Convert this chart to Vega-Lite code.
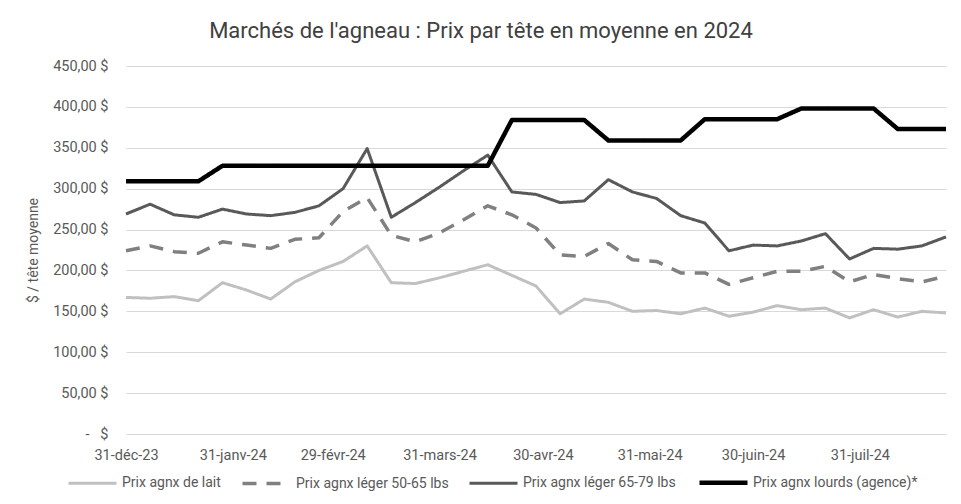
{
  "$schema": "https://vega.github.io/schema/vega-lite/v6.json",
  "width": 820,
  "height": 368,
  "autosize": {"type": "none"},
  "padding": {"left": 126, "top": 66, "right": 15, "bottom": 70},
  "background": "white",
  "title": {
    "text": "Marchés de l'agneau : Prix par tête en moyenne en 2024",
    "font": "Roboto",
    "fontSize": 22,
    "fontWeight": "normal",
    "color": "#404040",
    "anchor": "middle",
    "dx": -55,
    "offset": 15
  },
  "data": {
    "values": [
      {"date": "2023-12-31", "serie": "Prix agnx de lait", "prix": 167},
      {"date": "2024-01-07", "serie": "Prix agnx de lait", "prix": 166},
      {"date": "2024-01-14", "serie": "Prix agnx de lait", "prix": 168},
      {"date": "2024-01-21", "serie": "Prix agnx de lait", "prix": 163},
      {"date": "2024-01-28", "serie": "Prix agnx de lait", "prix": 185},
      {"date": "2024-02-04", "serie": "Prix agnx de lait", "prix": 176},
      {"date": "2024-02-11", "serie": "Prix agnx de lait", "prix": 165},
      {"date": "2024-02-18", "serie": "Prix agnx de lait", "prix": 186},
      {"date": "2024-02-25", "serie": "Prix agnx de lait", "prix": 200},
      {"date": "2024-03-03", "serie": "Prix agnx de lait", "prix": 211},
      {"date": "2024-03-10", "serie": "Prix agnx de lait", "prix": 230},
      {"date": "2024-03-17", "serie": "Prix agnx de lait", "prix": 185},
      {"date": "2024-03-24", "serie": "Prix agnx de lait", "prix": 184},
      {"date": "2024-03-31", "serie": "Prix agnx de lait", "prix": 191},
      {"date": "2024-04-07", "serie": "Prix agnx de lait", "prix": 199},
      {"date": "2024-04-14", "serie": "Prix agnx de lait", "prix": 207},
      {"date": "2024-04-21", "serie": "Prix agnx de lait", "prix": 194},
      {"date": "2024-04-28", "serie": "Prix agnx de lait", "prix": 181},
      {"date": "2024-05-05", "serie": "Prix agnx de lait", "prix": 147},
      {"date": "2024-05-12", "serie": "Prix agnx de lait", "prix": 165},
      {"date": "2024-05-19", "serie": "Prix agnx de lait", "prix": 161},
      {"date": "2024-05-26", "serie": "Prix agnx de lait", "prix": 150},
      {"date": "2024-06-02", "serie": "Prix agnx de lait", "prix": 151},
      {"date": "2024-06-09", "serie": "Prix agnx de lait", "prix": 147},
      {"date": "2024-06-16", "serie": "Prix agnx de lait", "prix": 154},
      {"date": "2024-06-23", "serie": "Prix agnx de lait", "prix": 144},
      {"date": "2024-06-30", "serie": "Prix agnx de lait", "prix": 149},
      {"date": "2024-07-07", "serie": "Prix agnx de lait", "prix": 157},
      {"date": "2024-07-14", "serie": "Prix agnx de lait", "prix": 152},
      {"date": "2024-07-21", "serie": "Prix agnx de lait", "prix": 154},
      {"date": "2024-07-28", "serie": "Prix agnx de lait", "prix": 142},
      {"date": "2024-08-04", "serie": "Prix agnx de lait", "prix": 152},
      {"date": "2024-08-11", "serie": "Prix agnx de lait", "prix": 143},
      {"date": "2024-08-18", "serie": "Prix agnx de lait", "prix": 150},
      {"date": "2024-08-25", "serie": "Prix agnx de lait", "prix": 148},
      {"date": "2023-12-31", "serie": "Prix agnx léger 50-65 lbs", "prix": 224},
      {"date": "2024-01-07", "serie": "Prix agnx léger 50-65 lbs", "prix": 230},
      {"date": "2024-01-14", "serie": "Prix agnx léger 50-65 lbs", "prix": 223},
      {"date": "2024-01-21", "serie": "Prix agnx léger 50-65 lbs", "prix": 221},
      {"date": "2024-01-28", "serie": "Prix agnx léger 50-65 lbs", "prix": 235},
      {"date": "2024-02-04", "serie": "Prix agnx léger 50-65 lbs", "prix": 231},
      {"date": "2024-02-11", "serie": "Prix agnx léger 50-65 lbs", "prix": 227},
      {"date": "2024-02-18", "serie": "Prix agnx léger 50-65 lbs", "prix": 238},
      {"date": "2024-02-25", "serie": "Prix agnx léger 50-65 lbs", "prix": 240},
      {"date": "2024-03-03", "serie": "Prix agnx léger 50-65 lbs", "prix": 272},
      {"date": "2024-03-10", "serie": "Prix agnx léger 50-65 lbs", "prix": 289},
      {"date": "2024-03-17", "serie": "Prix agnx léger 50-65 lbs", "prix": 243},
      {"date": "2024-03-24", "serie": "Prix agnx léger 50-65 lbs", "prix": 235},
      {"date": "2024-03-31", "serie": "Prix agnx léger 50-65 lbs", "prix": 246},
      {"date": "2024-04-07", "serie": "Prix agnx léger 50-65 lbs", "prix": 262},
      {"date": "2024-04-14", "serie": "Prix agnx léger 50-65 lbs", "prix": 279},
      {"date": "2024-04-21", "serie": "Prix agnx léger 50-65 lbs", "prix": 268},
      {"date": "2024-04-28", "serie": "Prix agnx léger 50-65 lbs", "prix": 252},
      {"date": "2024-05-05", "serie": "Prix agnx léger 50-65 lbs", "prix": 219},
      {"date": "2024-05-12", "serie": "Prix agnx léger 50-65 lbs", "prix": 217},
      {"date": "2024-05-19", "serie": "Prix agnx léger 50-65 lbs", "prix": 233},
      {"date": "2024-05-26", "serie": "Prix agnx léger 50-65 lbs", "prix": 213},
      {"date": "2024-06-02", "serie": "Prix agnx léger 50-65 lbs", "prix": 211},
      {"date": "2024-06-09", "serie": "Prix agnx léger 50-65 lbs", "prix": 197},
      {"date": "2024-06-16", "serie": "Prix agnx léger 50-65 lbs", "prix": 197},
      {"date": "2024-06-23", "serie": "Prix agnx léger 50-65 lbs", "prix": 183},
      {"date": "2024-06-30", "serie": "Prix agnx léger 50-65 lbs", "prix": 191},
      {"date": "2024-07-07", "serie": "Prix agnx léger 50-65 lbs", "prix": 199},
      {"date": "2024-07-14", "serie": "Prix agnx léger 50-65 lbs", "prix": 199},
      {"date": "2024-07-21", "serie": "Prix agnx léger 50-65 lbs", "prix": 205},
      {"date": "2024-07-28", "serie": "Prix agnx léger 50-65 lbs", "prix": 186},
      {"date": "2024-08-04", "serie": "Prix agnx léger 50-65 lbs", "prix": 195},
      {"date": "2024-08-11", "serie": "Prix agnx léger 50-65 lbs", "prix": 190},
      {"date": "2024-08-18", "serie": "Prix agnx léger 50-65 lbs", "prix": 186},
      {"date": "2024-08-25", "serie": "Prix agnx léger 50-65 lbs", "prix": 193},
      {"date": "2023-12-31", "serie": "Prix agnx léger 65-79 lbs", "prix": 269},
      {"date": "2024-01-07", "serie": "Prix agnx léger 65-79 lbs", "prix": 281},
      {"date": "2024-01-14", "serie": "Prix agnx léger 65-79 lbs", "prix": 268},
      {"date": "2024-01-21", "serie": "Prix agnx léger 65-79 lbs", "prix": 265},
      {"date": "2024-01-28", "serie": "Prix agnx léger 65-79 lbs", "prix": 275},
      {"date": "2024-02-04", "serie": "Prix agnx léger 65-79 lbs", "prix": 269},
      {"date": "2024-02-11", "serie": "Prix agnx léger 65-79 lbs", "prix": 267},
      {"date": "2024-02-18", "serie": "Prix agnx léger 65-79 lbs", "prix": 271},
      {"date": "2024-02-25", "serie": "Prix agnx léger 65-79 lbs", "prix": 279},
      {"date": "2024-03-03", "serie": "Prix agnx léger 65-79 lbs", "prix": 300},
      {"date": "2024-03-10", "serie": "Prix agnx léger 65-79 lbs", "prix": 349},
      {"date": "2024-03-17", "serie": "Prix agnx léger 65-79 lbs", "prix": 265},
      {"date": "2024-03-24", "serie": "Prix agnx léger 65-79 lbs", "prix": 283},
      {"date": "2024-03-31", "serie": "Prix agnx léger 65-79 lbs", "prix": 302},
      {"date": "2024-04-07", "serie": "Prix agnx léger 65-79 lbs", "prix": 322},
      {"date": "2024-04-14", "serie": "Prix agnx léger 65-79 lbs", "prix": 341},
      {"date": "2024-04-21", "serie": "Prix agnx léger 65-79 lbs", "prix": 296},
      {"date": "2024-04-28", "serie": "Prix agnx léger 65-79 lbs", "prix": 293},
      {"date": "2024-05-05", "serie": "Prix agnx léger 65-79 lbs", "prix": 283},
      {"date": "2024-05-12", "serie": "Prix agnx léger 65-79 lbs", "prix": 285},
      {"date": "2024-05-19", "serie": "Prix agnx léger 65-79 lbs", "prix": 311},
      {"date": "2024-05-26", "serie": "Prix agnx léger 65-79 lbs", "prix": 296},
      {"date": "2024-06-02", "serie": "Prix agnx léger 65-79 lbs", "prix": 288},
      {"date": "2024-06-09", "serie": "Prix agnx léger 65-79 lbs", "prix": 267},
      {"date": "2024-06-16", "serie": "Prix agnx léger 65-79 lbs", "prix": 258},
      {"date": "2024-06-23", "serie": "Prix agnx léger 65-79 lbs", "prix": 224},
      {"date": "2024-06-30", "serie": "Prix agnx léger 65-79 lbs", "prix": 231},
      {"date": "2024-07-07", "serie": "Prix agnx léger 65-79 lbs", "prix": 230},
      {"date": "2024-07-14", "serie": "Prix agnx léger 65-79 lbs", "prix": 236},
      {"date": "2024-07-21", "serie": "Prix agnx léger 65-79 lbs", "prix": 245},
      {"date": "2024-07-28", "serie": "Prix agnx léger 65-79 lbs", "prix": 214},
      {"date": "2024-08-04", "serie": "Prix agnx léger 65-79 lbs", "prix": 227},
      {"date": "2024-08-11", "serie": "Prix agnx léger 65-79 lbs", "prix": 226},
      {"date": "2024-08-18", "serie": "Prix agnx léger 65-79 lbs", "prix": 230},
      {"date": "2024-08-25", "serie": "Prix agnx léger 65-79 lbs", "prix": 241},
      {"date": "2023-12-31", "serie": "Prix agnx lourds (agence)*", "prix": 309},
      {"date": "2024-01-07", "serie": "Prix agnx lourds (agence)*", "prix": 309},
      {"date": "2024-01-14", "serie": "Prix agnx lourds (agence)*", "prix": 309},
      {"date": "2024-01-21", "serie": "Prix agnx lourds (agence)*", "prix": 309},
      {"date": "2024-01-28", "serie": "Prix agnx lourds (agence)*", "prix": 328},
      {"date": "2024-02-04", "serie": "Prix agnx lourds (agence)*", "prix": 328},
      {"date": "2024-02-11", "serie": "Prix agnx lourds (agence)*", "prix": 328},
      {"date": "2024-02-18", "serie": "Prix agnx lourds (agence)*", "prix": 328},
      {"date": "2024-02-25", "serie": "Prix agnx lourds (agence)*", "prix": 328},
      {"date": "2024-03-03", "serie": "Prix agnx lourds (agence)*", "prix": 328},
      {"date": "2024-03-10", "serie": "Prix agnx lourds (agence)*", "prix": 328},
      {"date": "2024-03-17", "serie": "Prix agnx lourds (agence)*", "prix": 328},
      {"date": "2024-03-24", "serie": "Prix agnx lourds (agence)*", "prix": 328},
      {"date": "2024-03-31", "serie": "Prix agnx lourds (agence)*", "prix": 328},
      {"date": "2024-04-07", "serie": "Prix agnx lourds (agence)*", "prix": 328},
      {"date": "2024-04-14", "serie": "Prix agnx lourds (agence)*", "prix": 328},
      {"date": "2024-04-21", "serie": "Prix agnx lourds (agence)*", "prix": 384},
      {"date": "2024-04-28", "serie": "Prix agnx lourds (agence)*", "prix": 384},
      {"date": "2024-05-05", "serie": "Prix agnx lourds (agence)*", "prix": 384},
      {"date": "2024-05-12", "serie": "Prix agnx lourds (agence)*", "prix": 384},
      {"date": "2024-05-19", "serie": "Prix agnx lourds (agence)*", "prix": 359},
      {"date": "2024-05-26", "serie": "Prix agnx lourds (agence)*", "prix": 359},
      {"date": "2024-06-02", "serie": "Prix agnx lourds (agence)*", "prix": 359},
      {"date": "2024-06-09", "serie": "Prix agnx lourds (agence)*", "prix": 359},
      {"date": "2024-06-16", "serie": "Prix agnx lourds (agence)*", "prix": 385},
      {"date": "2024-06-23", "serie": "Prix agnx lourds (agence)*", "prix": 385},
      {"date": "2024-06-30", "serie": "Prix agnx lourds (agence)*", "prix": 385},
      {"date": "2024-07-07", "serie": "Prix agnx lourds (agence)*", "prix": 385},
      {"date": "2024-07-14", "serie": "Prix agnx lourds (agence)*", "prix": 398},
      {"date": "2024-07-21", "serie": "Prix agnx lourds (agence)*", "prix": 398},
      {"date": "2024-07-28", "serie": "Prix agnx lourds (agence)*", "prix": 398},
      {"date": "2024-08-04", "serie": "Prix agnx lourds (agence)*", "prix": 398},
      {"date": "2024-08-11", "serie": "Prix agnx lourds (agence)*", "prix": 373},
      {"date": "2024-08-18", "serie": "Prix agnx lourds (agence)*", "prix": 373},
      {"date": "2024-08-25", "serie": "Prix agnx lourds (agence)*", "prix": 373}
    ]
  },
  "mark": {"type": "line", "strokeJoin": "round", "strokeCap": "butt"},
  "encoding": {
    "x": {
      "field": "date",
      "type": "temporal",
      "scale": {"type": "utc", "nice": false},
      "axis": {
        "title": null,
        "grid": false,
        "domain": false,
        "ticks": false,
        "labelPadding": 14,
        "labelFlush": false,
        "labelOverlap": false,
        "labelFont": "Roboto",
        "labelFontSize": 14.5,
        "labelColor": "#595959",
        "values": [
          {"year": 2023, "month": 12, "date": 31, "utc": true},
          {"year": 2024, "month": 1, "date": 31, "utc": true},
          {"year": 2024, "month": 2, "date": 29, "utc": true},
          {"year": 2024, "month": 3, "date": 31, "utc": true},
          {"year": 2024, "month": 4, "date": 30, "utc": true},
          {"year": 2024, "month": 5, "date": 31, "utc": true},
          {"year": 2024, "month": 6, "date": 30, "utc": true},
          {"year": 2024, "month": 7, "date": 31, "utc": true}
        ],
        "labelExpr": "utcFormat(datum.value, '%d') + '-' + ['janv','févr','mars','avr','mai','juin','juil','août','sept','oct','nov','déc'][utcmonth(datum.value)] + '-' + utcFormat(datum.value, '%y')"
      }
    },
    "y": {
      "field": "prix",
      "type": "quantitative",
      "scale": {"domain": [0, 450], "nice": false, "zero": true},
      "axis": {
        "title": "$ / tête moyenne",
        "titleFont": "Roboto",
        "titleFontSize": 14,
        "titleFontWeight": "normal",
        "titleColor": "#595959",
        "titlePadding": 12,
        "values": [0, 50, 100, 150, 200, 250, 300, 350, 400, 450],
        "grid": true,
        "gridColor": "#D9D9D9",
        "gridWidth": 1,
        "domain": false,
        "ticks": false,
        "labelPadding": 18,
        "labelFont": "Roboto",
        "labelFontSize": 14.5,
        "labelColor": "#595959",
        "labelExpr": "datum.value == 0 ? '-\u00a0\u00a0\u00a0$' : replace(format(datum.value, '.2f'), '.', ',') + ' $'"
      }
    },
    "color": {
      "field": "serie",
      "type": "nominal",
      "scale": {
        "domain": ["Prix agnx de lait", "Prix agnx léger 50-65 lbs", "Prix agnx léger 65-79 lbs", "Prix agnx lourds (agence)*"],
        "range": ["#C0C0C0", "#808080", "#595959", "#000000"]
      },
      "legend": {"title": null}
    },
    "strokeDash": {
      "field": "serie",
      "type": "nominal",
      "scale": {
        "domain": ["Prix agnx de lait", "Prix agnx léger 50-65 lbs", "Prix agnx léger 65-79 lbs", "Prix agnx lourds (agence)*"],
        "range": [[1, 0], [14, 10], [1, 0], [1, 0]]
      },
      "legend": {"title": null}
    },
    "strokeWidth": {
      "field": "serie",
      "type": "nominal",
      "scale": {
        "type": "ordinal",
        "domain": ["Prix agnx de lait", "Prix agnx léger 50-65 lbs", "Prix agnx léger 65-79 lbs", "Prix agnx lourds (agence)*"],
        "range": [3, 3.5, 3, 4.5]
      },
      "legend": {"title": null}
    }
  },
  "config": {
    "view": {"stroke": null},
    "legend": {
      "orient": "none",
      "legendX": -60,
      "legendY": 390,
      "direction": "horizontal",
      "columns": 4,
      "symbolType": "stroke",
      "symbolSize": 2304,
      "labelFont": "Roboto",
      "labelFontSize": 14,
      "labelLimit": 400,
      "labelColor": "#595959",
      "labelOffset": 3,
      "columnPadding": 14
    }
  }
}
